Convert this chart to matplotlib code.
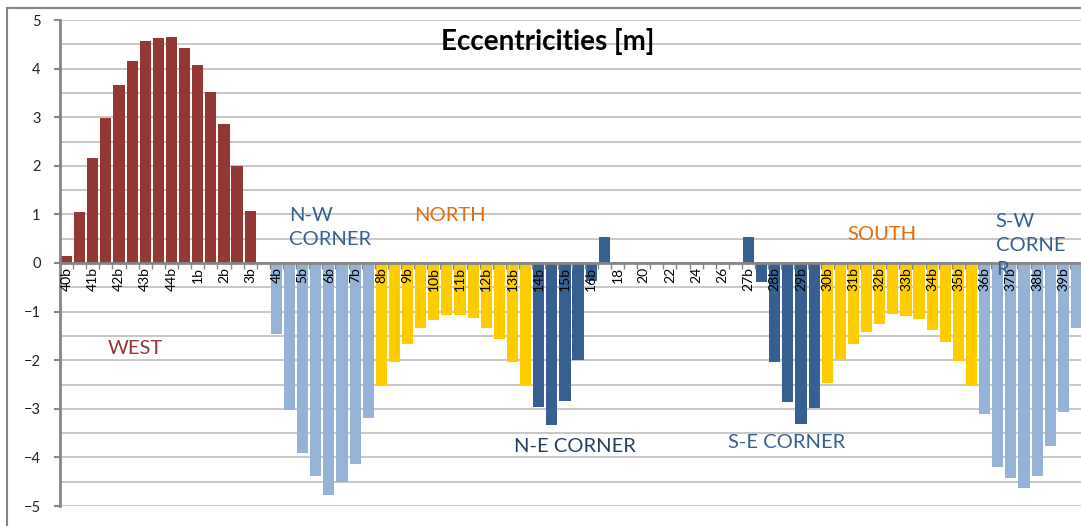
import matplotlib.pyplot as plt
from matplotlib.lines import Line2D

plt.rcParams['font.family'] = ['Lato', 'DejaVu Sans']

# ── eccentricity per section, grouped by facade ──
west_cats = ["40b", "41a", "41b", "42a", "42b", "43a", "43b", "44a", "44b",
             "1a", "1b", "2a", "2b", "3a", "3b", "4a"]
west_vals = [0.15, 1.05, 2.16, 2.99, 3.66, 4.15, 4.57, 4.62, 4.66,
             4.42, 4.07, 3.51, 2.86, 2.00, 1.07, 0.0]

nw_cats = ["4b", "5a", "5b", "6a", "6b", "7a", "7b", "8a"]
nw_vals = [-1.46, -3.02, -3.90, -4.38, -4.77, -4.51, -4.13, -3.18]

north_cats = ["8b", "9a", "9b", "10a", "10b", "11a", "11b", "12a", "12b",
              "13a", "13b", "14a"]
north_vals = [-2.54, -2.03, -1.67, -1.33, -1.17, -1.08, -1.08, -1.13, -1.33,
              -1.56, -2.03, -2.50]

ne_cats = ["14b", "15a", "15b", "16a", "16b", "17"]
ne_vals = [-2.96, -3.33, -2.83, -2.00, -0.38, 0.53]

east_cats = ["18", "19", "20", "21", "22", "23", "24", "25", "26", "27a"]
east_vals = [0.0] * 10

se_cats = ["27b", "28a", "28b", "29a", "29b", "30a"]
se_vals = [0.53, -0.40, -2.03, -2.87, -3.31, -2.98]

south_cats = ["30b", "31a", "31b", "32a", "32b", "33a", "33b", "34a", "34b",
              "35a", "35b", "36a"]
south_vals = [-2.47, -1.98, -1.66, -1.42, -1.25, -1.05, -1.09, -1.15, -1.38,
              -1.62, -2.01, -2.50]

sw_cats = ["36b", "37a", "37b", "38a", "38b", "39a", "39b", "40a"]
sw_vals = [-3.11, -4.19, -4.42, -4.62, -4.38, -3.76, -3.06, -1.33]

groups = [
    (west_cats, west_vals, "#953735"),
    (nw_cats, nw_vals, "#95B3D7"),
    (north_cats, north_vals, "#FFCC00"),
    (ne_cats, ne_vals, "#376092"),
    (east_cats, east_vals, "#376092"),
    (se_cats, se_vals, "#376092"),
    (south_cats, south_vals, "#FFCC00"),
    (sw_cats, sw_vals, "#95B3D7"),
]

cats, vals, colors = [], [], []
for c, v, col in groups:
    cats += c
    vals += v
    colors += [col] * len(c)
x = list(range(len(cats)))

# ── figure ──
fig = plt.figure(figsize=(10.81, 5.26), dpi=100)
ax = fig.add_axes([60 / 1081, 20 / 526, 1023 / 1081, 486 / 526])

ax.bar(x, vals, width=0.85, color=colors, zorder=2)

ax.set_xlim(-0.5, len(cats) - 0.5)
ax.set_ylim(-5, 5)

# gridlines every 0.5
for g in [i * 0.5 for i in range(-10, 11)]:
    ax.axhline(g, color="#C4C4C4", lw=1.3, zorder=1)

ax.set_yticks(range(-5, 6))
ax.tick_params(axis="y", direction="out", length=4, width=1.5, color="#868686",
               labelsize=10.5, pad=10, labelcolor="#222222")

# category axis sits on zero, drawn over the bars
ax.spines["bottom"].set_position(("data", 0))
ax.spines["bottom"].set_color("#868686")
ax.spines["bottom"].set_linewidth(2)
ax.spines["bottom"].set_zorder(4)
ax.spines["left"].set_color("#868686")
ax.spines["left"].set_linewidth(2)
ax.spines["left"].set_zorder(4)
ax.spines["top"].set_visible(False)
ax.spines["right"].set_visible(False)
ax.xaxis.set_zorder(5)

ax.set_xticks(x[::2])
ax.set_xticklabels(cats[::2], rotation=90, fontsize=10)
ax.set_xticks([i - 0.5 for i in range(len(cats) + 1)], minor=True)
ax.tick_params(axis="x", which="major", length=0, pad=3)
ax.tick_params(axis="x", which="minor", direction="out", length=4, width=1,
               color="#868686")

# facade labels
fs = 14.5
ax.text(5.2, -1.75, "WEST", color="#953735", fontsize=fs, ha="center", va="center")
ax.text(16.95, 0.73, "N-W\nCORNER", color="#376092", fontsize=fs,
        ha="left", va="center", linespacing=1.55)
ax.text(29.2, 0.98, "NORTH", color="#E46C0A", fontsize=fs, ha="center", va="center")
ax.text(38.8, -3.77, "N-E CORNER", color="#254061", fontsize=fs, ha="center", va="center")
ax.text(54.9, -3.69, "S-E CORNER", color="#376092", fontsize=fs, ha="center", va="center")
ax.text(62.2, 0.59, "SOUTH", color="#E46C0A", fontsize=fs, ha="center", va="center")
ax.text(70.85, 0.36, "S-W\nCORNE\nR", color="#376092", fontsize=fs,
        ha="left", va="center", linespacing=1.5, zorder=6)

fig.text(548 / 1081, 1 - 41 / 526, "Eccentricities [m]", fontsize=20,
         fontweight="bold", ha="center", va="center")

# chart frame
fig.add_artist(Line2D([7 / 1081, 7 / 1081], [0, 1 - 8 / 526], color="#868686", lw=1.5))
fig.add_artist(Line2D([7 / 1081, 1], [1 - 8 / 526, 1 - 8 / 526], color="#868686", lw=1.5))

fig.savefig("out.png", dpi=100)
